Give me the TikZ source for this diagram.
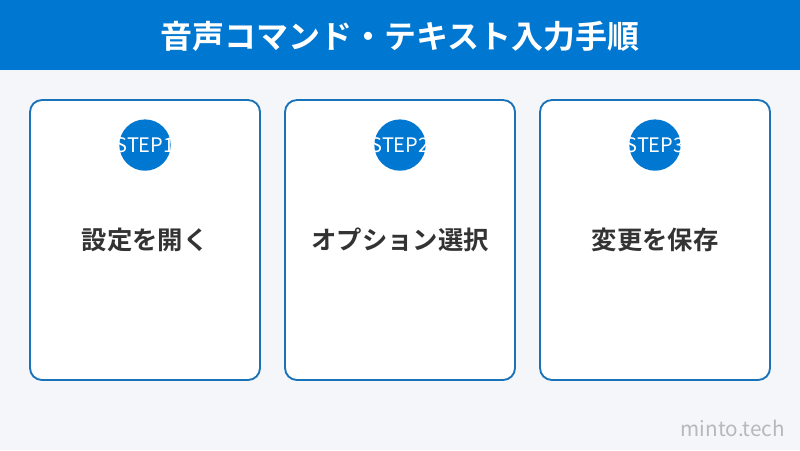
\documentclass[tikz,border=0pt]{standalone}
\usepackage{fontspec}
\setmainfont{Noto Sans CJK JP}
\newfontfamily\boldjp{Noto Sans CJK JP Bold}
\usetikzlibrary{positioning}
\definecolor{barblue}{HTML}{0077D0}
\definecolor{cardline}{HTML}{1A72B8}
\definecolor{pagebg}{HTML}{F4F6FA}
\definecolor{darktext}{HTML}{333333}
\definecolor{marktext}{HTML}{B8B8B8}

\tikzset{
	card/.style={draw=cardline,line width=1.4pt,fill=white,rounded corners=9pt,
		minimum width=172.5pt,minimum height=210pt,inner sep=0pt},
	badge/.style={circle,fill=barblue,minimum size=38.5pt,inner sep=0pt},
	badgetext/.style={text=white,font=\fontsize{15}{15}\selectfont,inner sep=0pt},
	cardtext/.style={text=darktext,font=\boldjp\fontsize{19}{19}\selectfont}
}

\begin{document}
\begin{tikzpicture}[x=0.75pt,y=-0.75pt]
		\fill[pagebg] (0,0) rectangle (800,450);
		\useasboundingbox (0,0) rectangle (800,450);
		\fill[barblue] (0,0) rectangle (800,70);
		\node[text=white,font=\boldjp\fontsize{24}{24}\selectfont] (title) at (400,36) {音声コマンド・テキスト入力手順};
		\node[card] (card1) at (145,240) {};
		\node[card] (card2) at (400,240) {};
		\node[card] (card3) at (655,240) {};
		\foreach \n/\t in {1/設定を開く,2/オプション選択,3/変更を保存} {
			\node[badge] (badge\n) at ([yshift=-34.5pt]card\n.north) {};
			\node[badgetext] (step\n) at (badge\n) {STEP\n};
			\node[cardtext] (label\n) at (card\n.center) {\t};
		}
		\node[text=marktext,font=\fontsize{15.5}{15.5}\selectfont,anchor=east,inner sep=0pt] (mark) at (785,428) {minto.tech};
	\end{tikzpicture}
\end{document}
